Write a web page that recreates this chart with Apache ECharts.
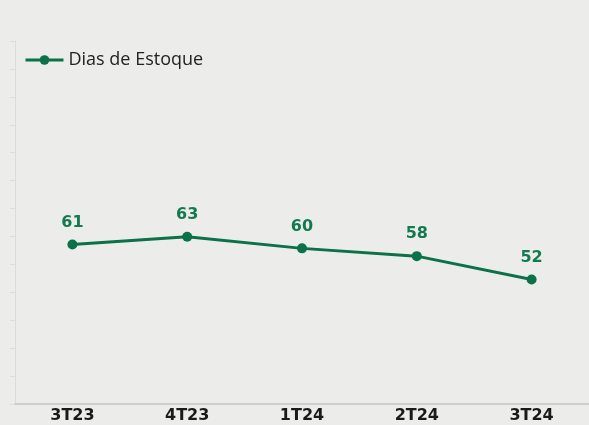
<!DOCTYPE html>
<html>
<head>
<meta charset="utf-8">
<script src="https://cdn.jsdelivr.net/npm/echarts@6/dist/echarts.min.js"></script>
<style>
  html, body { margin: 0; padding: 0; background: #ececea; }
  #chart { width: 589px; height: 425px; }
</style>
</head>
<body>
<div id="chart"></div>
<script>
const categories = ['3T23', '4T23', '1T24', '2T24', '3T24'];
const diasEstoque = [61, 63, 60, 58, 52];
const seriesName = 'Dias de Estoque';

const green = '#0b7148';
const yMin = 20;
const yMax = 113.3;

let chart = echarts.init(document.getElementById('chart'));
chart.setOption({
  backgroundColor: '#ececea',
  animation: false,
  legend: {
    left: 19,
    top: 46,
    itemWidth: 38,
    itemHeight: 12,
    itemGap: 8,
    lineStyle: { width: 3 },
    textStyle: { fontFamily: 'Open Sans', fontSize: 18, color: '#222222' },
    data: [seriesName]
  },
  grid: { left: 15, width: 578, top: 41, height: 363 },
  xAxis: {
    type: 'category',
    data: categories,
    axisLine: { lineStyle: { color: '#c4c4c4', width: 1.5 } },
    axisTick: { show: false },
    axisLabel: {
      margin: 4,
      fontFamily: 'DejaVu Sans',
      fontWeight: 'bold',
      fontSize: 16,
      color: '#1a1a1a'
    }
  },
  yAxis: {
    type: 'value',
    min: yMin,
    max: yMax,
    interval: (yMax - yMin) / 13,
    axisLine: { show: true, lineStyle: { color: '#dcdcda' } },
    axisTick: { show: true, length: 5, lineStyle: { color: '#dcdcda' } },
    axisLabel: { show: false },
    splitLine: { show: false }
  },
  series: [{
    name: seriesName,
    type: 'line',
    data: diasEstoque,
    symbol: 'circle',
    symbolSize: 10,
    lineStyle: { color: green, width: 3 },
    itemStyle: { color: green },
    label: {
      show: true,
      position: 'top',
      distance: 9,
      fontFamily: 'DejaVu Sans',
      fontWeight: 'bold',
      fontSize: 16,
      color: '#137a50'
    }
  }]
});
</script>
</body>
</html>
